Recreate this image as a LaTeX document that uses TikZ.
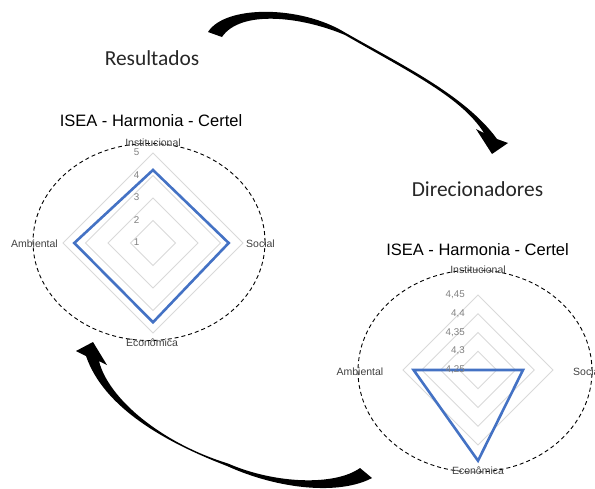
\documentclass[tikz,border=0pt]{standalone}
\usepackage{fontspec}
\setmainfont{Liberation Sans}
\newfontfamily\calibrifont{Carlito}
\usetikzlibrary{calc}
\definecolor{chartblue}{HTML}{4472C4}
\definecolor{ringgray}{HTML}{D9D9D9}
\definecolor{tickgray}{HTML}{808080}
\definecolor{labelgray}{HTML}{404040}
\tikzset{
        ringline/.style={draw=ringgray, line width=1pt},
        seriesline/.style={draw=chartblue, line width=2.6pt, line join=miter},
        frameellipse/.style={draw=black, dash pattern=on 4pt off 3pt, line width=0.9pt},
        charttitle/.style={anchor=base, inner sep=0pt, font=\fontsize{16.5}{18}\selectfont},
        steptitle/.style={anchor=base, inner sep=0pt, text=black!85, font=\calibrifont\fontsize{21.4}{24}\selectfont},
        axislabel/.style={inner sep=0pt, text=labelgray, font=\fontsize{10.5}{12}\selectfont},
        ticklabel/.style={anchor=mid east, inner sep=0pt, text=tickgray, font=\fontsize{9.8}{11}\selectfont},
        flowarrow/.style={fill=black},
    }
\begin{document}
\begin{tikzpicture}[x=1pt, y=-1pt]
        \useasboundingbox (0,0) rectangle (595,488);

        % Step titles
        \node[steptitle] (tres) at (152, 65) {Resultados};
        \node[steptitle] (tdir) at (477.5, 196) {Direcionadores};

        % Left radar chart
        \node[charttitle] (tleft) at (151, 126) {ISEA - Harmonia - Certel};
        \draw[frameellipse] (149,242) ellipse [x radius=116pt, y radius=98.5pt];
        \begin{scope}[shift={(153,243)}]
            \foreach \r in {22.5,45,67.5,90}
                \draw[ringline] (0,-\r) -- (\r,0) -- (0,\r) -- (-\r,0) -- cycle;
            \draw[seriesline] (0,-73) -- (75.7,0) -- (0,79.3) -- (-78.7,0) -- cycle;
        \end{scope}
        \foreach \v [count=\i from 0] in {1,...,5}
            \node[ticklabel] (lt\v) at (139.5, 243-\i*22.5) {\v};
        \node[axislabel, anchor=base] (linst) at (153, 146.5) {Institucional};
        \node[axislabel, anchor=base west] (lsoc) at (246, 247.3) {Social};
        \node[axislabel, anchor=base east] (lamb) at (58, 247.3) {Ambiental};
        \node[axislabel, anchor=base] (leco) at (152, 346.7) {Econômica};

        % Right radar chart
        \node[charttitle] (tright) at (477.5, 255) {ISEA - Harmonia - Certel};
        \draw[frameellipse] (475,371) ellipse [x radius=117pt, y radius=101pt];
        \begin{scope}[shift={(478,370)}]
            \foreach \r in {18.75,37.5,56.25,75}
                \draw[ringline] (0,-\r) -- (\r,0) -- (0,\r) -- (-\r,0) -- cycle;
            \draw[seriesline] (0,0) -- (45,0) -- (0,90.7) -- (-64.4,0) -- cycle;
        \end{scope}
        \foreach \v/\i in {25/0,3/1,35/2,4/3,45/4}
            \node[ticklabel] (rt\v) at (465, 370-\i*18.75) {4,\v};
        \node[axislabel, anchor=base] (rinst) at (478, 273.3) {Institucional};
        \node[axislabel, anchor=base west] (rsoc) at (573, 375) {Social};
        \node[axislabel, anchor=base east] (ramb) at (383.5, 375) {Ambiental};
        \node[axislabel, anchor=base] (reco) at (478, 474) {Econômica};

        % Curved arrow: Resultados -> Direcionadores
        \fill[flowarrow] (208,32) .. controls (225,5) and (300,5) .. (345,32.5)
            .. controls (400,64) and (465,95) .. (497,139)
            -- (508,143) -- (492,154) -- (476,129) -- (484,133)
            .. controls (462,98) and (411.7,73.2) .. (345,35)
            .. controls (300,16) and (240,10) .. (222,37) -- cycle;

        % Curved arrow: Direcionadores -> Resultados
        \fill[flowarrow] (372,478) .. controls (340,495) and (280,490) .. (227,466)
            .. controls (165,442) and (104,408) .. (86,356)
            -- (76,351) -- (93,342) -- (107,365) -- (99,361)
            .. controls (108,398) and (160.7,442.8) .. (228,463.5)
            .. controls (275,484) and (335,486) .. (360,468) -- cycle;
    \end{tikzpicture}
\end{document}
